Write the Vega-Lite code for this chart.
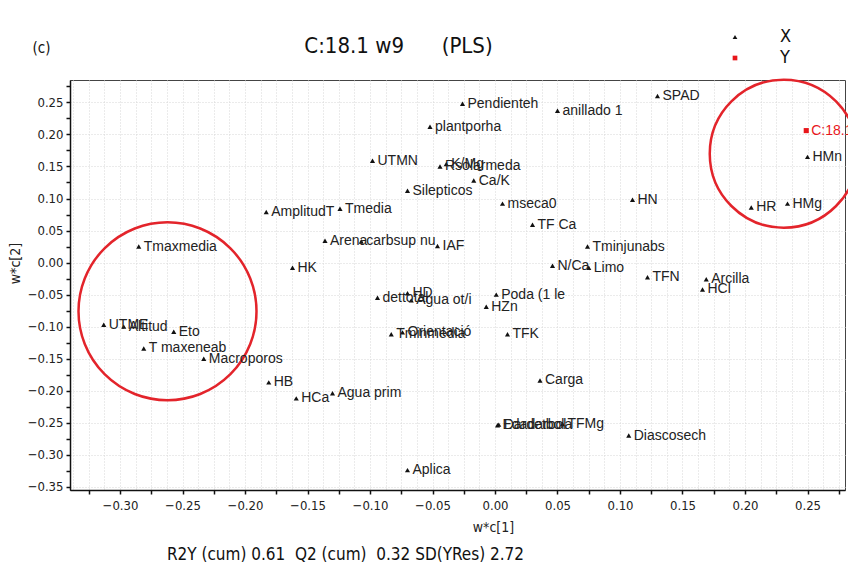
{
  "$schema": "https://vega.github.io/schema/vega-lite/v6.json",
  "width": 775,
  "height": 410,
  "autosize": {"type": "none"},
  "padding": {"left": 70, "top": 80, "right": 3, "bottom": 80},
  "background": "white",
  "config": {
    "view": {"stroke": "#444", "strokeWidth": 1},
    "font": "Liberation Sans",
    "axis": {"labelFont": "DejaVu Sans Condensed, Liberation Sans, sans-serif", "titleFont": "DejaVu Sans Condensed, Liberation Sans, sans-serif", "titleFontWeight": "normal", "labelColor": "#222", "titleColor": "#222"}
  },
  "title": {
    "text": "C:18.1 w9\u00a0\u00a0\u00a0\u00a0\u00a0\u00a0(PLS)",
    "font": "DejaVu Sans Condensed, Liberation Sans, sans-serif",
    "fontSize": 22,
    "fontWeight": "normal",
    "color": "#111",
    "anchor": "middle",
    "dx": -59,
    "offset": -30
  },
  "datasets": {
    "loadings": [
      {"label": "Pendienteh", "type": "X", "x": -0.026, "y": 0.248},
      {"label": "anillado 1", "type": "X", "x": 0.050, "y": 0.237},
      {"label": "SPAD", "type": "X", "x": 0.130, "y": 0.260},
      {"label": "plantporha", "type": "X", "x": -0.052, "y": 0.212},
      {"label": "UTMN", "type": "X", "x": -0.098, "y": 0.159},
      {"label": "K/Mg", "type": "X", "x": -0.039, "y": 0.154},
      {"label": "Rsolarmeda", "type": "X", "x": -0.044, "y": 0.150},
      {"label": "Ca/K", "type": "X", "x": -0.017, "y": 0.128},
      {"label": "Silepticos", "type": "X", "x": -0.070, "y": 0.112},
      {"label": "AmplitudT", "type": "X", "x": -0.183, "y": 0.079},
      {"label": "Tmedia", "type": "X", "x": -0.124, "y": 0.084},
      {"label": "mseca0", "type": "X", "x": 0.006, "y": 0.092},
      {"label": "HN", "type": "X", "x": 0.110, "y": 0.098},
      {"label": "TF Ca", "type": "X", "x": 0.030, "y": 0.059},
      {"label": "HR", "type": "X", "x": 0.205, "y": 0.086},
      {"label": "HMg", "type": "X", "x": 0.234, "y": 0.092},
      {"label": "HMn", "type": "X", "x": 0.250, "y": 0.165},
      {"label": "Tmaxmedia", "type": "X", "x": -0.285, "y": 0.025},
      {"label": "Arena", "type": "X", "x": -0.136, "y": 0.034},
      {"label": "carbsup nu", "type": "X", "x": -0.107, "y": 0.033},
      {"label": "IAF", "type": "X", "x": -0.046, "y": 0.026},
      {"label": "Tminjunabs", "type": "X", "x": 0.074, "y": 0.025},
      {"label": "HK", "type": "X", "x": -0.162, "y": -0.008},
      {"label": "N/Ca", "type": "X", "x": 0.046, "y": -0.005},
      {"label": "Limo", "type": "X", "x": 0.075, "y": -0.008},
      {"label": "TFN", "type": "X", "x": 0.122, "y": -0.023},
      {"label": "Arcilla", "type": "X", "x": 0.169, "y": -0.026},
      {"label": "HCl", "type": "X", "x": 0.166, "y": -0.042},
      {"label": "Poda (1 le", "type": "X", "x": 0.001, "y": -0.050},
      {"label": "HZn", "type": "X", "x": -0.007, "y": -0.069},
      {"label": "TFK", "type": "X", "x": 0.010, "y": -0.112},
      {"label": "dettotal", "type": "X", "x": -0.094, "y": -0.055},
      {"label": "HD", "type": "X", "x": -0.070, "y": -0.048},
      {"label": "Agua  ot/i", "type": "X", "x": -0.067, "y": -0.059},
      {"label": "Tminmedia", "type": "X", "x": -0.083, "y": -0.112},
      {"label": "Orientació", "type": "X", "x": -0.074, "y": -0.109},
      {"label": "UTME", "type": "X", "x": -0.313, "y": -0.097},
      {"label": "Altitud", "type": "X", "x": -0.297, "y": -0.100},
      {"label": "Eto", "type": "X", "x": -0.257, "y": -0.108},
      {"label": "T maxeneab", "type": "X", "x": -0.281, "y": -0.134},
      {"label": "Macroporos", "type": "X", "x": -0.233, "y": -0.150},
      {"label": "HB", "type": "X", "x": -0.181, "y": -0.187},
      {"label": "HCa", "type": "X", "x": -0.159, "y": -0.212},
      {"label": "Agua prim", "type": "X", "x": -0.130, "y": -0.204},
      {"label": "Carga", "type": "X", "x": 0.036, "y": -0.184},
      {"label": "Edadarbol", "type": "X", "x": 0.002, "y": -0.254},
      {"label": "Dardetbola", "type": "X", "x": 0.003, "y": -0.253},
      {"label": "TFMg", "type": "X", "x": 0.054, "y": -0.252},
      {"label": "Diascosech", "type": "X", "x": 0.107, "y": -0.270},
      {"label": "Aplica", "type": "X", "x": -0.070, "y": -0.324},
      {"label": "C:18.1", "type": "Y", "x": 0.249, "y": 0.206}
    ],
    "circles": [
      {"group": "left", "x": -0.262, "y": -0.076},
      {"group": "right", "x": 0.231, "y": 0.170}
    ]
  },
  "resolve": {"axis": {"x": "independent", "y": "independent"}},
  "layer": [
    {
      "data": {"name": "circles"},
      "transform": [{"filter": "datum.group === 'left'"}],
      "mark": {"type": "point", "shape": "circle", "filled": false, "size": 31684, "stroke": "#e3242b", "strokeWidth": 2.5, "opacity": 1},
      "encoding": {
        "x": {
          "field": "x", "type": "quantitative",
          "scale": {"domain": [-0.34, 0.28], "nice": false, "zero": false},
          "axis": {
            "orient": "bottom",
            "values": [-0.3375,-0.325,-0.3125,-0.3,-0.2875,-0.275,-0.2625,-0.25,-0.2375,-0.225,-0.2125,-0.2,-0.1875,-0.175,-0.1625,-0.15,-0.1375,-0.125,-0.1125,-0.1,-0.0875,-0.075,-0.0625,-0.05,-0.0375,-0.025,-0.0125,0,0.0125,0.025,0.0375,0.05,0.0625,0.075,0.0875,0.1,0.1125,0.125,0.1375,0.15,0.1625,0.175,0.1875,0.2,0.2125,0.225,0.2375,0.25,0.2625,0.275],
            "grid": true, "gridColor": "#d6d6d6", "gridDash": [1, 2], "gridWidth": 1,
            "labels": false, "ticks": false, "domain": false,
            "title": "R2Y (cum) 0.61\u00a0\u00a0Q2 (cum)\u00a0\u00a00.32 SD(YRes) 2.72",
            "titleFontSize": 17, "titleColor": "#111",
            "titleX": 275, "titleY": 64, "titleAlign": "center", "titleBaseline": "middle"
          }
        },
        "y": {
          "field": "y", "type": "quantitative",
          "scale": {"domain": [-0.355, 0.285], "nice": false, "zero": false},
          "axis": {
            "orient": "left",
            "values": [-0.35,-0.3,-0.25,-0.2,-0.15,-0.1,-0.05,0,0.05,0.1,0.15,0.2,0.25],
            "grid": true, "gridColor": "#d6d6d6", "gridDash": [1, 2], "gridWidth": 1,
            "labels": false, "ticks": false, "domain": false,
            "title": "(c)", "titleFontSize": 15, "titleColor": "#111", "titleAngle": 0,
            "titleX": -29, "titleY": -33, "titleAlign": "center", "titleBaseline": "middle"
          }
        }
      }
    },
    {
      "data": {"name": "circles"},
      "transform": [{"filter": "datum.group === 'right'"}],
      "mark": {"type": "point", "shape": "circle", "filled": false, "size": 21904, "stroke": "#e3242b", "strokeWidth": 2.5, "opacity": 1},
      "encoding": {
        "x": {"field": "x", "type": "quantitative", "scale": {"domain": [-0.34, 0.28], "nice": false, "zero": false}, "axis": null},
        "y": {"field": "y", "type": "quantitative", "scale": {"domain": [-0.355, 0.285], "nice": false, "zero": false}, "axis": null}
      }
    },
    {
      "mark": {"type": "rule", "color": "#666", "strokeWidth": 1.5},
      "encoding": {
        "y": {"datum": 0, "type": "quantitative", "scale": {"domain": [-0.355, 0.285], "nice": false, "zero": false}, "axis": null}
      }
    },
    {
      "mark": {"type": "rule", "color": "#666", "strokeWidth": 1.5},
      "encoding": {
        "x": {"datum": 0, "type": "quantitative", "scale": {"domain": [-0.34, 0.28], "nice": false, "zero": false}, "axis": null}
      }
    },
    {
      "data": {"name": "loadings"},
      "mark": {"type": "point", "filled": true, "opacity": 1, "size": 26},
      "encoding": {
        "x": {
          "field": "x", "type": "quantitative",
          "scale": {"domain": [-0.34, 0.28], "nice": false, "zero": false},
          "axis": {
            "orient": "bottom",
            "values": [-0.325,-0.3,-0.275,-0.25,-0.225,-0.2,-0.175,-0.15,-0.125,-0.1,-0.075,-0.05,-0.025,0,0.025,0.05,0.075,0.1,0.125,0.15,0.175,0.2,0.225,0.25,0.275],
            "labelExpr": "abs(round(datum.value*1000)) % 50 == 0 ? format(datum.value, '.2f') : ''",
            "grid": false, "domainColor": "#111", "domainWidth": 1.5,
            "tickColor": "#111", "tickSize": 4, "tickWidth": 1.5,
            "labelFontSize": 13, "labelPadding": 5,
            "title": "w*c[1]", "titleFontSize": 14,
            "titleX": 423, "titleY": 37, "titleAlign": "center", "titleBaseline": "middle"
          }
        },
        "y": {
          "field": "y", "type": "quantitative",
          "scale": {"domain": [-0.355, 0.285], "nice": false, "zero": false},
          "axis": {
            "orient": "left",
            "values": [-0.35,-0.325,-0.3,-0.275,-0.25,-0.225,-0.2,-0.175,-0.15,-0.125,-0.1,-0.075,-0.05,-0.025,0,0.025,0.05,0.075,0.1,0.125,0.15,0.175,0.2,0.225,0.25,0.275],
            "labelExpr": "abs(round(datum.value*1000)) % 50 == 0 ? format(datum.value, '.2f') : ''",
            "grid": false, "domainColor": "#111", "domainWidth": 1.5,
            "tickColor": "#111", "tickSize": 4, "tickWidth": 1.5,
            "labelFontSize": 13, "labelPadding": 3,
            "title": "w*c[2]", "titleFontSize": 14,
            "titleX": -55, "titleY": 183, "titleAlign": "center", "titleBaseline": "middle"
          }
        },
        "shape": {
          "field": "type", "type": "nominal",
          "scale": {"domain": ["X", "Y"], "range": ["triangle-up", "square"]},
          "legend": {
            "orient": "none", "legendX": 656, "legendY": -52, "title": null,
            "labelFont": "DejaVu Sans Condensed, Liberation Sans, sans-serif", "labelFontSize": 18, "labelColor": "#111",
            "labelOffset": 36, "symbolSize": 22, "rowPadding": 3
          }
        },
        "color": {
          "field": "type", "type": "nominal",
          "scale": {"domain": ["X", "Y"], "range": ["#111111", "#e8161b"]}
        }
      }
    },
    {
      "data": {"name": "loadings"},
      "mark": {"type": "text", "align": "left", "baseline": "middle", "dx": 5, "fontSize": 14, "font": "Liberation Sans"},
      "encoding": {
        "x": {"field": "x", "type": "quantitative", "scale": {"domain": [-0.34, 0.28], "nice": false, "zero": false}, "axis": null},
        "y": {"field": "y", "type": "quantitative", "scale": {"domain": [-0.355, 0.285], "nice": false, "zero": false}, "axis": null},
        "text": {"field": "label"},
        "color": {"condition": {"test": "datum.type === 'Y'", "value": "#e8161b"}, "value": "#222222"}
      }
    }
  ]
}
